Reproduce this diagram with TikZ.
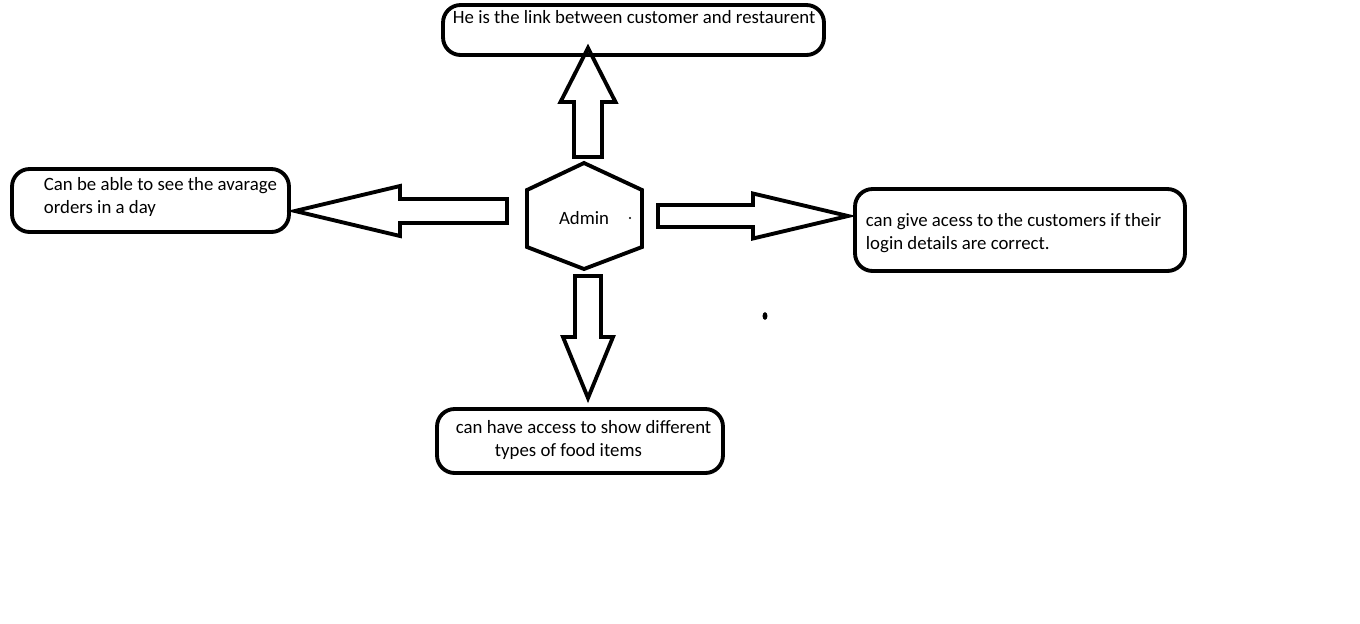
\documentclass[tikz,border=0pt]{standalone}
\usepackage{fontspec}
\setmainfont{Carlito}

\begin{document}
\begin{tikzpicture}[x=0.02cm, y=-0.02cm, line width=2.2pt,
    kasten/.style={draw, rounded corners=10pt, inner sep=0pt},
    txt/.style={anchor=west, inner sep=0pt, align=left, font=\fontsize{10.7}{13.3}\selectfont}]
    % Hintergrund
    \fill[white] (0,0) rectangle (1360,623);
    \useasboundingbox (0,0) rectangle (1360,623);
    % Kaesten
    \node[kasten, minimum width=7.62cm, minimum height=1cm] (oben) at (633.5,30) {};
    \node[kasten, minimum width=5.54cm, minimum height=1.26cm] (links) at (150.5,200.5) {};
    \node[kasten, minimum width=6.6cm, minimum height=1.64cm] (rechts) at (1020,230) {};
    \node[kasten, minimum width=5.72cm, minimum height=1.28cm] (unten) at (580,441) {};
    % Beschriftung
    \node[txt] (tOben) at (451,17) {He is the link between customer and restaurent};
    \node[txt] (tLinks) at (42,197) {Can be able to see the avarage\\orders in a day};
    \node[txt] (tRechts) at (864,233) {can give acess to the customers if their\\login details are correct.};
    \node[txt] (tUnten) at (454,440) {can have access to show different\\\hspace*{0.78cm}types of food items};
    % Sechseck
    \node[font=\fontsize{10.7}{13.3}\selectfont] (adm) at (584,218) {Admin};
    \draw[shift={(adm.center)}] (0,-55) -- (58,-28) -- (58,29) -- (0,51) -- (-57,29) -- (-57,-28) -- cycle;
    % Pfeile
    \coordinate (pO) at (588,157);
    \coordinate (pR) at (658,216);
    \coordinate (pL) at (507,211);
    \coordinate (pU) at (588,276);
    \foreach \p/\w/\l/\k/\s/\h in {pO/90/109/54/14/27.5, pR/0/190/95/11/22.5, pL/180/212/105/12/25, pU/270/122/61/13/25}
        \draw[shift={(\p)}, rotate=\w] (0,-\s) -- (\l-\k,-\s) -- (\l-\k,-\h) -- (\l,0)
            -- (\l-\k,\h) -- (\l-\k,\s) -- (0,\s) -- cycle;
    % Punkte
    \fill (630,218) circle (0.6pt);
    \fill (765,316) ellipse (1.4pt and 2.2pt);
\end{tikzpicture}
\end{document}
